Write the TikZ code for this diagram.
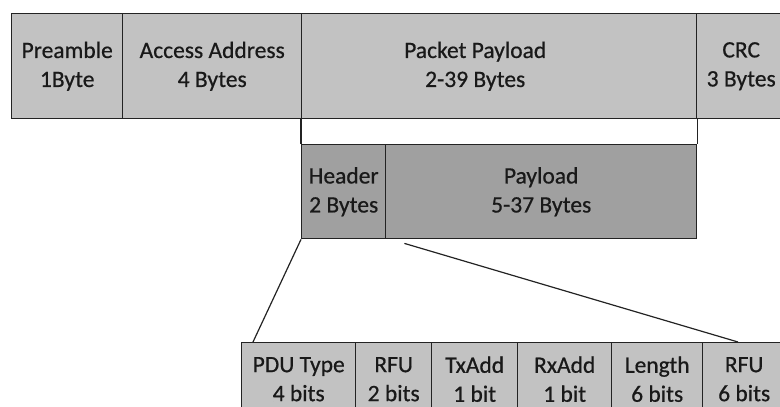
\documentclass[tikz,border=0pt]{standalone}
\usepackage{fontspec}
\setmainfont{Carlito}
\newfontfamily\fieldfont[FakeBold=0.6]{Carlito}
\usetikzlibrary{calc}
\definecolor{fieldgray}{RGB}{194,194,194}
\definecolor{hdrgray}{RGB}{160,160,160}
\definecolor{edge}{RGB}{35,35,35}
\definecolor{ink}{RGB}{25,25,25}
\tikzset{
  fieldtext/.style={align=center,font=\fieldfont\fontsize{23.5}{29}\selectfont,text=ink},
  field/.style={draw=edge,fill=#1,line width=1.4pt,anchor=north west,inner sep=0pt,
    fieldtext},
  field/.default=fieldgray,
  toprow/.style={field,minimum height=105pt},
  midrow/.style={field=hdrgray,minimum height=94pt},
  bitrow/.style={field,minimum height=73pt},
  link/.style={draw=edge,line width=1.2pt},
}

\begin{document}
\begin{tikzpicture}[x=1pt,y=-1pt]
  \useasboundingbox (0,0) rectangle (780,407);
  \clip (0,0) rectangle (780,407);
  % packet
  \node[toprow,minimum width=111pt] (pre) at (11,13) {Preamble\\1Byte};
  \node[toprow,minimum width=179pt] (aa) at (122,13) {Access Address\\4 Bytes};
  \node[toprow,minimum width=395pt,label={[fieldtext,xshift=-24pt]center:Packet Payload\\2-39 Bytes}] (pp) at (301,13) {};
  \node[toprow,minimum width=89pt] (crc) at (696,13) {CRC\\3 Bytes};
  % PDU
  \node[midrow,minimum width=84pt] (hdr) at (301,144) {Header\\2 Bytes};
  \node[midrow,minimum width=311pt] (pl) at (385,144) {Payload\\5-37 Bytes};
  \draw[link] (pp.south west) -- (hdr.north west);
  \draw[link] (pp.south east) -- (pl.north east);
  % header bits
  \foreach \n/\x/\w/\t in {pdu/241/114/PDU Type\\4 bits,rfua/355/76/RFU\\2 bits,
      tx/431/86/TxAdd\\1 bit,rx/517/94/RxAdd\\1 bit,len/611/91/Length\\6 bits,
      rfub/702/83/RFU\\6 bits}
    \node[bitrow,minimum width=\w pt] (\n) at (\x,342) {\t};
  \coordinate (zoomL) at ($(pdu.north west)+(12,0)$);
  \coordinate (zoomR) at ($(rfub.north west)+(36,0)$);
  \draw[link] (hdr.south west) -- (zoomL);
  \draw[link] ($(hdr.south east)+(18,4)$) -- (zoomR);
\end{tikzpicture}
\end{document}
